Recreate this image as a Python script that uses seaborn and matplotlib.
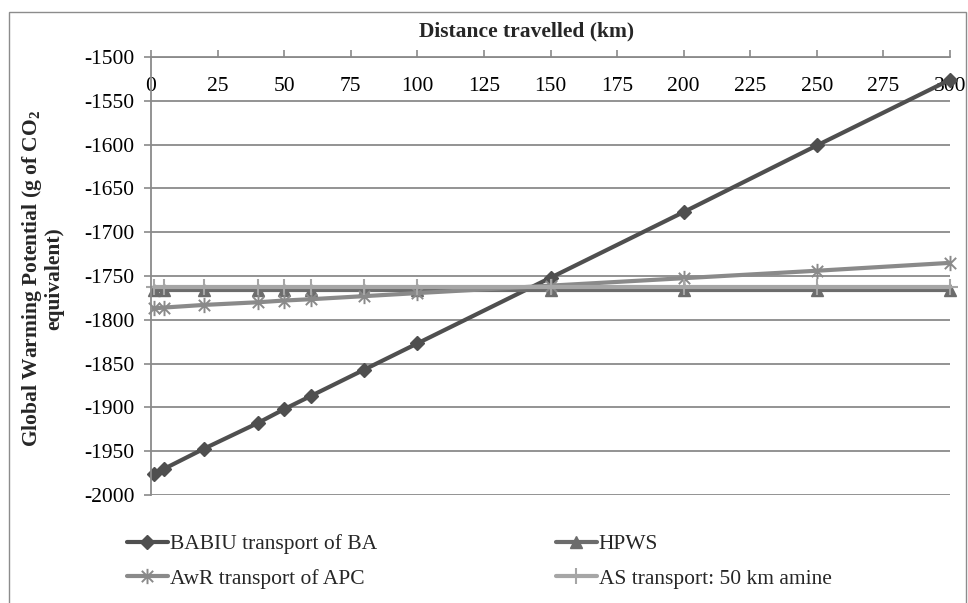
import matplotlib
matplotlib.use("Agg")
import numpy as np
import pandas as pd
import matplotlib.pyplot as plt
import seaborn as sns
from matplotlib.path import Path
from matplotlib.patches import Rectangle

# ---------------- data ----------------
distance_km = [1, 5, 20, 40, 50, 60, 80, 100, 150, 200, 250, 300]
babiu = [-1976, -1970, -1947, -1918, -1902, -1887, -1857, -1827, -1752, -1677, -1601, -1526]
hpws = [-1766, -1766, -1766, -1766, -1766, -1766, -1766, -1766, -1766, -1766, -1766, -1766]
awr = [-1787, -1786, -1783, -1780, -1778, -1776.5, -1773, -1769.5, -1761, -1752.5, -1744, -1735]
as_transport = [-1762, -1762, -1762, -1762, -1762, -1762, -1762, -1762, -1762, -1762, -1762, -1762]
series_names = ["BABIU transport of BA", "HPWS", "AwR transport of APC", "AS transport: 50 km amine"]
x_ticks = [0, 25, 50, 75, 100, 125, 150, 175, 200, 225, 250, 275, 300]
y_ticks = [-2000, -1950, -1900, -1850, -1800, -1750, -1700, -1650, -1600, -1550, -1500]

# ---------------- style ----------------
sns.set_style("white")
plt.rcParams["font.family"] = ["Liberation Serif", "DejaVu Serif"]
plt.rcParams["axes.unicode_minus"] = False
plt.rcParams["mathtext.fontset"] = "custom"
plt.rcParams["mathtext.rm"] = "Liberation Serif:bold"
plt.rcParams["mathtext.it"] = "Liberation Serif:bold"
plt.rcParams["mathtext.bf"] = "Liberation Serif:bold"

FS = 15.5
GRID = "#8a8a8a"

fig = plt.figure(figsize=(9.68, 6.03), dpi=100)
ax = fig.add_axes([151 / 968, 1 - 495 / 603, (950 - 151) / 968, (495 - 57) / 603])

# star marker like Excel (X with vertical bar)
star = Path([(-1, -1), (1, 1), (-1, 1), (1, -1), (0, -1.35), (0, 1.35)],
            [Path.MOVETO, Path.LINETO, Path.MOVETO, Path.LINETO, Path.MOVETO, Path.LINETO])

styles = [
    dict(y=babiu, color="#4f4f4f", marker="D", ms=7, lw=3.0, mew=1.0),
    dict(y=hpws, color="#6c6c6c", marker="^", ms=9, lw=3.0, mew=1.0),
    dict(y=awr, color="#8a8a8a", marker=star, ms=11, lw=3.0, mew=1.4),
    dict(y=as_transport, color="#a6a6a6", marker="+", ms=12, lw=3.0, mew=1.5),
]

for name, st in zip(series_names, styles):
    sns.lineplot(x=distance_km, y=st["y"], ax=ax, color=st["color"], marker=st["marker"],
                 markersize=st["ms"], markeredgecolor=st["color"], markerfacecolor=st["color"],
                 markeredgewidth=st["mew"], linewidth=st["lw"], estimator=None, sort=False,
                 label=name, legend=False, clip_on=False)

handles = list(ax.lines[:4])
if ax.get_legend() is not None:
    ax.get_legend().remove()

ax.set_xlim(0, 300)
ax.set_ylim(-2000, -1500)
ax.set_xticks(x_ticks)
ax.set_yticks(y_ticks)
ax.set_xlabel("")
ax.set_ylabel("")

ax.xaxis.tick_top()
ax.tick_params(axis="x", direction="out", length=5, width=1.2, color=GRID, pad=-33,
               labelsize=FS, labelcolor="black")
ax.tick_params(axis="y", direction="out", length=5, width=1.2, color=GRID, pad=7,
               labelsize=FS, labelcolor="black", left=True)

ax.yaxis.grid(True, color=GRID, linewidth=1.3)
ax.xaxis.grid(False)
ax.set_axisbelow(True)
for side in ["right", "bottom"]:
    ax.spines[side].set_visible(False)
for side in ["left", "top"]:
    ax.spines[side].set_visible(True)
    ax.spines[side].set_color(GRID)
    ax.spines[side].set_linewidth(1.3)

# titles
fig.text(527 / 968, 1 - 31 / 603, "Distance travelled (km)", ha="center", va="center",
         fontsize=FS, fontweight="bold")
fig.text(42 / 968, 1 - 279 / 603, "Global Warming Potential (g of CO$_2$\nequivalent)",
         rotation=90, ha="center", va="center", ma="center", fontsize=FS,
         fontweight="bold", linespacing=1.0)

# legend: row-major order like the reference (BABIU, HPWS / AwR, AS)
order = [0, 2, 1, 3]
fig.legend([handles[i] for i in order], [series_names[i] for i in order],
           loc="upper left", bbox_to_anchor=(127 / 968, 1 - 534 / 603),
           ncol=2, frameon=False, handlelength=1.9, handletextpad=0.1, columnspacing=8.3,
           labelspacing=0.68, borderpad=0, borderaxespad=0, fontsize=FS)

# chart border
fig.patches.append(Rectangle((9 / 968, -0.02), (966 - 9) / 968, 1.02 - 12 / 603,
                             transform=fig.transFigure, fill=False, edgecolor="#8c8c8c",
                             linewidth=1.0))

fig.savefig("out.png", dpi=100)
